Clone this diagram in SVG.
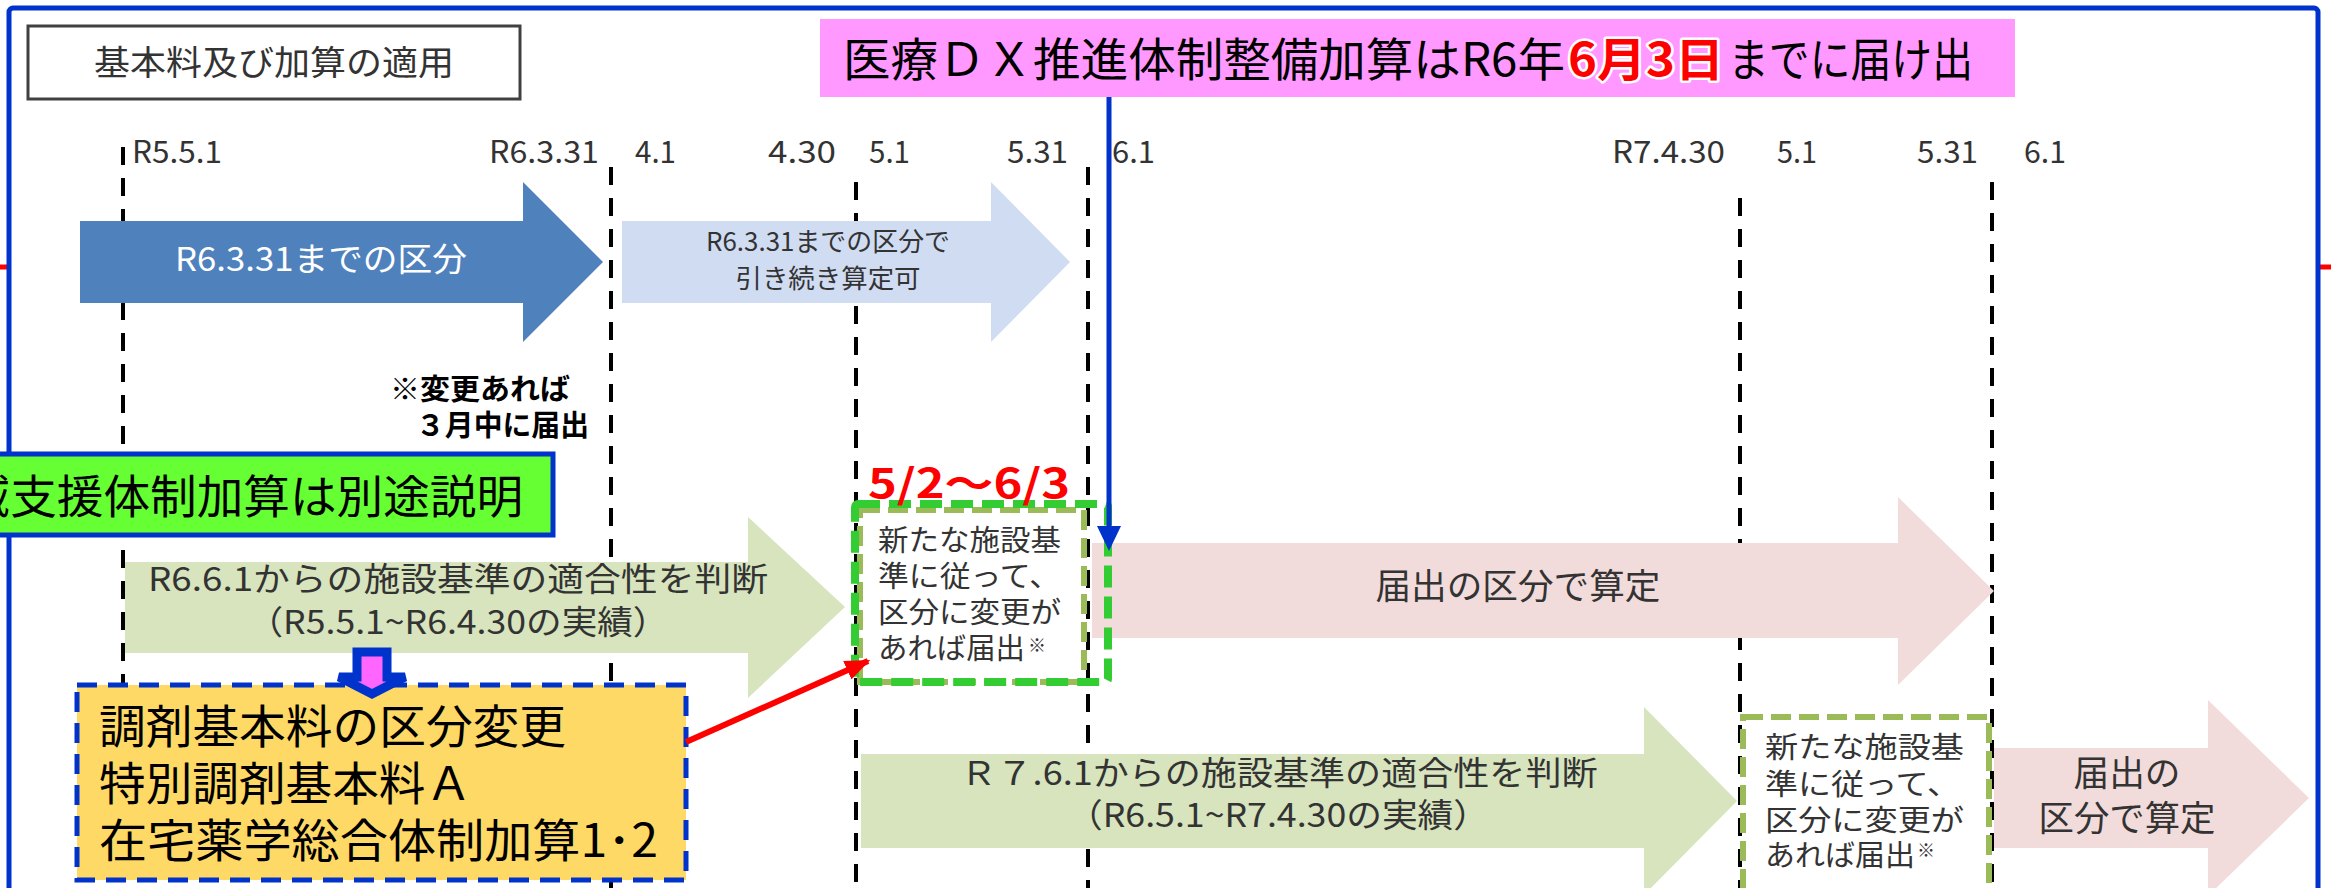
<svg xmlns="http://www.w3.org/2000/svg" width="2331" height="888" viewBox="0 0 2331 888">
<style>
text{font-family:"Noto Sans CJK JP","Noto Sans",sans-serif}
.dl{stroke:#000;stroke-width:4;stroke-dasharray:18 13;fill:none}
.lbl{font-size:31px;fill:#333}
.g{fill:#333}
.blk{fill:#000}
.c{text-anchor:middle}
.bld{font-weight:bold}
</style>
<defs>
<marker id="rh" viewBox="0 0 10 8" refX="9" refY="4" markerWidth="4.2" markerHeight="3.4" orient="auto" markerUnits="strokeWidth">
<path d="M0,0 L10,4 L0,8 z" fill="#FF0000"/>
</marker>
</defs>
<rect width="2331" height="888" fill="#fff"/>
<g id="frame">
<line x1="0" y1="267" x2="10" y2="267" stroke="#FF0000" stroke-width="5"/>
<line x1="2318" y1="267" x2="2331" y2="267" stroke="#FF0000" stroke-width="5"/>
<rect x="9" y="8" width="2309" height="900" rx="4" fill="#fff" stroke="#0033CC" stroke-width="5"/>
</g>
<g id="title">
<rect x="28" y="26" width="492" height="73" fill="#fff" stroke="#404040" stroke-width="3"/>
<text x="274" y="75" class="g c" font-size="34" textLength="360" lengthAdjust="spacingAndGlyphs">基本料及び加算の適用</text>
</g>
<g id="labels" class="lbl">
<text x="132" y="163" textLength="90" lengthAdjust="spacingAndGlyphs">R5.5.1</text>
<text x="489" y="163" textLength="110" lengthAdjust="spacingAndGlyphs">R6.3.31</text>
<text x="635" y="163" textLength="41" lengthAdjust="spacingAndGlyphs">4.1</text>
<text x="768" y="163" textLength="68" lengthAdjust="spacingAndGlyphs">4.30</text>
<text x="869" y="163" textLength="41" lengthAdjust="spacingAndGlyphs">5.1</text>
<text x="1007" y="163" textLength="61" lengthAdjust="spacingAndGlyphs">5.31</text>
<text x="1112" y="163" textLength="43" lengthAdjust="spacingAndGlyphs">6.1</text>
<text x="1612" y="163" textLength="113" lengthAdjust="spacingAndGlyphs">R7.4.30</text>
<text x="1777" y="163" textLength="40" lengthAdjust="spacingAndGlyphs">5.1</text>
<text x="1917" y="163" textLength="61" lengthAdjust="spacingAndGlyphs">5.31</text>
<text x="2024" y="163" textLength="42" lengthAdjust="spacingAndGlyphs">6.1</text>
</g>
<g id="timelines">
<line class="dl" x1="123" y1="147" x2="123" y2="888"/>
<line class="dl" x1="611" y1="167" x2="611" y2="888"/>
<line class="dl" x1="856" y1="182" x2="856" y2="888"/>
<line class="dl" x1="1088" y1="167" x2="1088" y2="888"/>
<line class="dl" x1="1740" y1="198" x2="1740" y2="888"/>
<line class="dl" x1="1992" y1="182" x2="1992" y2="888"/>
</g>
<g id="arrow-r6331">
<polygon points="80,221 523,221 523,182 603,262 523,342 523,303 80,303" fill="#4F81BD"/>
<text x="321" y="271" class="c" fill="#fff" font-size="33" textLength="292" lengthAdjust="spacingAndGlyphs">R6.3.31までの区分</text>
</g>
<g id="arrow-continue">
<polygon points="622,221 991,221 991,182 1070,262 991,342 991,303 622,303" fill="#D0DCF2"/>
<text x="828" y="251" class="g c" font-size="26" textLength="244" lengthAdjust="spacingAndGlyphs">R6.3.31までの区分で</text>
<text x="828" y="288" class="g c" font-size="26" textLength="185" lengthAdjust="spacingAndGlyphs">引き続き算定可</text>
</g>
<g id="note-march">
<text x="390" y="400" class="blk bld" font-size="29" textLength="180" lengthAdjust="spacingAndGlyphs">※変更あれば</text>
<text x="416" y="436" class="blk bld" font-size="29" textLength="173" lengthAdjust="spacingAndGlyphs">３月中に届出</text>
</g>
<g id="arrow-r661">
<polygon points="125,562 748,562 748,517 845,607 748,698 748,653 125,653" fill="#D7E4BD"/>
<text x="458" y="591" class="g c" font-size="33" textLength="620" lengthAdjust="spacingAndGlyphs">R6.6.1からの施設基準の適合性を判断</text>
<text x="458" y="634" class="g c" font-size="33" textLength="421" lengthAdjust="spacingAndGlyphs">（R5.5.1~R6.4.30の実績）</text>
</g>
<g id="arrow-calc1">
<polygon points="1092,543 1898,543 1898,497 1994,591 1898,685 1898,638 1092,638" fill="#F2DCDB"/>
<text x="1518" y="599" class="g c" font-size="35" textLength="285" lengthAdjust="spacingAndGlyphs">届出の区分で算定</text>
</g>
<g id="arrow-r761">
<polygon points="861,754 1644,754 1644,707 1737,801 1644,895 1644,848 861,848" fill="#D7E4BD"/>
<text x="1279" y="785" class="g c" font-size="33" textLength="637" lengthAdjust="spacingAndGlyphs">Ｒ７.6.1からの施設基準の適合性を判断</text>
<text x="1278" y="827" class="g c" font-size="33" textLength="422" lengthAdjust="spacingAndGlyphs">（R6.5.1~R7.4.30の実績）</text>
</g>
<g id="arrow-calc2">
<polygon points="1994,748 2208,748 2208,700 2309,798 2208,896 2208,848 1994,848" fill="#F2DCDB"/>
<text x="2127" y="786" class="g c" font-size="35" textLength="107" lengthAdjust="spacingAndGlyphs">届出の</text>
<text x="2127" y="831" class="g c" font-size="35" textLength="177" lengthAdjust="spacingAndGlyphs">区分で算定</text>
</g>
<g id="box-new1">
<rect x="860" y="510" width="224" height="172" fill="#fff" stroke="#9BBB59" stroke-width="6" stroke-dasharray="20 8"/>
<rect x="855" y="504" width="253" height="178" rx="3" fill="none" stroke="#33CC33" stroke-width="8" stroke-dasharray="22 9"/>
<text x="878" y="551" class="g" font-size="29" textLength="183" lengthAdjust="spacingAndGlyphs">新たな施設基</text>
<text x="878" y="587" class="g" font-size="29" textLength="182" lengthAdjust="spacingAndGlyphs">準に従って、</text>
<text x="878" y="623" class="g" font-size="29" textLength="183" lengthAdjust="spacingAndGlyphs">区分に変更が</text>
<text x="878" y="659" class="g" font-size="29" textLength="147" lengthAdjust="spacingAndGlyphs">あれば届出</text>
<text x="1028" y="652" class="g" font-size="18">※</text>
</g>
<g id="period">
<text x="868" y="498" class="bld" fill="#FF0000" font-size="40" textLength="202" lengthAdjust="spacingAndGlyphs">5/2〜6/3</text>
</g>
<g id="box-new2">
<rect x="1743" y="717" width="246" height="190" fill="#fff" stroke="#9BBB59" stroke-width="6" stroke-dasharray="20 8"/>
<text x="1765" y="758" class="g" font-size="29" textLength="199" lengthAdjust="spacingAndGlyphs">新たな施設基</text>
<text x="1765" y="795" class="g" font-size="29" textLength="195" lengthAdjust="spacingAndGlyphs">準に従って、</text>
<text x="1765" y="831" class="g" font-size="29" textLength="199" lengthAdjust="spacingAndGlyphs">区分に変更が</text>
<text x="1765" y="866" class="g" font-size="29" textLength="150" lengthAdjust="spacingAndGlyphs">あれば届出</text>
<text x="1917" y="857" class="g" font-size="18">※</text>
</g>
<g id="banner-dx">
<rect x="820" y="19" width="1195" height="78" fill="#FF99FF"/>
<text x="843" y="76" class="blk" font-size="46" textLength="722" lengthAdjust="spacingAndGlyphs">医療ＤＸ推進体制整備加算はR6年</text>
<text x="1568" y="76" class="bld" fill="#FF0000" stroke="#fff" stroke-width="5" paint-order="stroke" stroke-linejoin="round" font-size="46" textLength="156" lengthAdjust="spacingAndGlyphs">6月3日</text>
<text x="1728" y="76" class="blk" font-size="46" textLength="245" lengthAdjust="spacingAndGlyphs">までに届け出</text>
</g>
<g id="banner-support">
<rect x="-20" y="454" width="573" height="81" fill="#66FF33" stroke="#0033CC" stroke-width="5"/>
<text x="-83" y="513" class="blk" font-size="46" textLength="606" lengthAdjust="spacingAndGlyphs">地域支援体制加算は別途説明</text>
</g>
<g id="box-yellow">
<rect x="77" y="685" width="609" height="195" fill="#FFD966" stroke="#0033CC" stroke-width="5" stroke-dasharray="20 11"/>
<text x="99" y="743" class="blk" font-size="46" textLength="467" lengthAdjust="spacingAndGlyphs">調剤基本料の区分変更</text>
<text x="99" y="800" class="blk" font-size="46" textLength="373" lengthAdjust="spacingAndGlyphs">特別調剤基本料Ａ</text>
<text x="99" y="857" class="blk" font-size="46" textLength="559" lengthAdjust="spacingAndGlyphs">在宅薬学総合体制加算1･2</text>
</g>
<g id="connectors">
<polygon points="357,652 387,652 387,677 405,677 372,694 339,677 357,677" fill="#FF66FF" stroke="#0033CC" stroke-width="9" stroke-linejoin="miter"/>
<line x1="686" y1="742" x2="868" y2="661" stroke="#FF0000" stroke-width="6" marker-end="url(#rh)"/>
<line x1="1109" y1="97" x2="1109" y2="528" stroke="#0033CC" stroke-width="5"/>
<polygon points="1097,526 1121,526 1109,551" fill="#0033CC"/>
</g>
</svg>
